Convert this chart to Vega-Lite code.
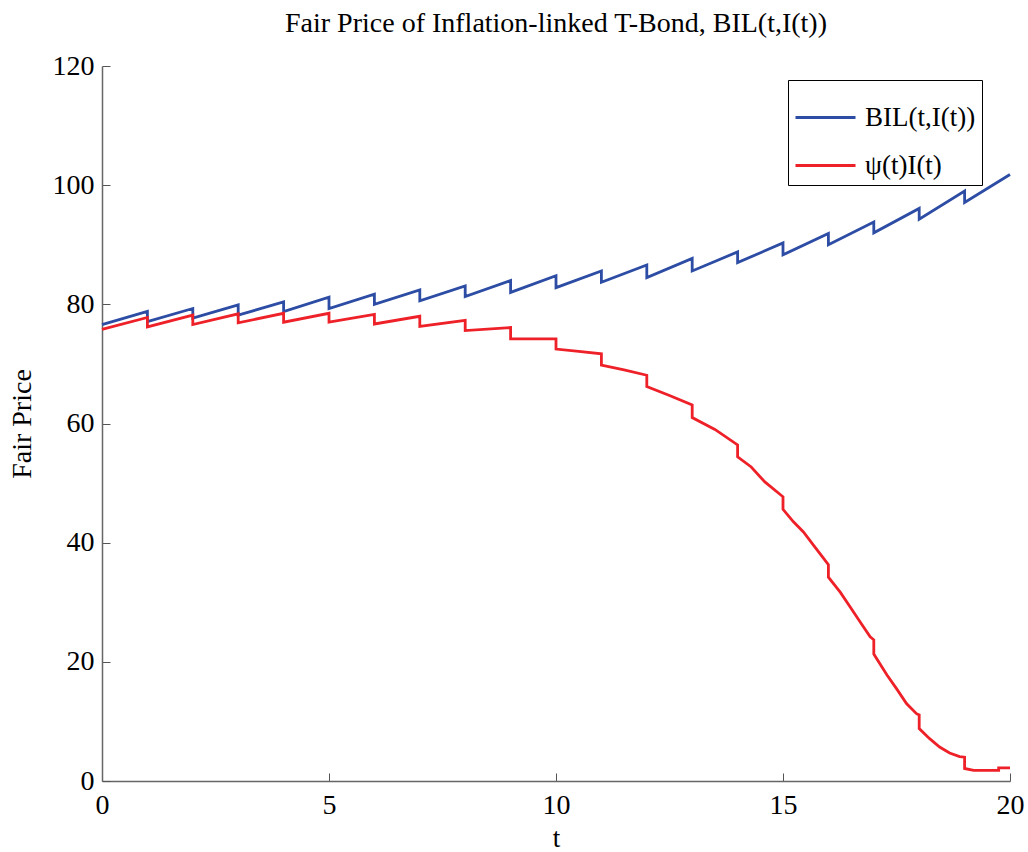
{
  "$schema": "https://vega.github.io/schema/vega-lite/v6.json",
  "width": 908,
  "height": 715,
  "autosize": {"type": "none"},
  "padding": {"left": 102, "top": 66, "right": 18, "bottom": 71},
  "background": "white",
  "config": {"view": {"stroke": null}, "font": "Liberation Serif"},
  "title": {"text": "Fair Price of Inflation-linked T-Bond, BIL(t,I(t))", "font": "Liberation Serif", "fontSize": 28, "fontWeight": "normal", "color": "black", "offset": 14, "anchor": "middle"},
  "data": {"values": [
    {"s": "BIL(t,I(t))", "i": 0, "t": 0, "v": 76.6},
    {"s": "BIL(t,I(t))", "i": 1, "t": 1, "v": 78.8},
    {"s": "BIL(t,I(t))", "i": 2, "t": 1, "v": 77.1},
    {"s": "BIL(t,I(t))", "i": 3, "t": 2, "v": 79.3},
    {"s": "BIL(t,I(t))", "i": 4, "t": 2, "v": 77.7},
    {"s": "BIL(t,I(t))", "i": 5, "t": 3, "v": 79.9},
    {"s": "BIL(t,I(t))", "i": 6, "t": 3, "v": 78.2},
    {"s": "BIL(t,I(t))", "i": 7, "t": 4, "v": 80.4},
    {"s": "BIL(t,I(t))", "i": 8, "t": 4, "v": 78.8},
    {"s": "BIL(t,I(t))", "i": 9, "t": 5, "v": 81.2},
    {"s": "BIL(t,I(t))", "i": 10, "t": 5, "v": 79.3},
    {"s": "BIL(t,I(t))", "i": 11, "t": 6, "v": 81.7},
    {"s": "BIL(t,I(t))", "i": 12, "t": 6, "v": 80.0},
    {"s": "BIL(t,I(t))", "i": 13, "t": 7, "v": 82.4},
    {"s": "BIL(t,I(t))", "i": 14, "t": 7, "v": 80.6},
    {"s": "BIL(t,I(t))", "i": 15, "t": 8, "v": 83.1},
    {"s": "BIL(t,I(t))", "i": 16, "t": 8, "v": 81.3},
    {"s": "BIL(t,I(t))", "i": 17, "t": 9, "v": 84.0},
    {"s": "BIL(t,I(t))", "i": 18, "t": 9, "v": 82.0},
    {"s": "BIL(t,I(t))", "i": 19, "t": 10, "v": 84.8},
    {"s": "BIL(t,I(t))", "i": 20, "t": 10, "v": 82.8},
    {"s": "BIL(t,I(t))", "i": 21, "t": 11, "v": 85.6},
    {"s": "BIL(t,I(t))", "i": 22, "t": 11, "v": 83.7},
    {"s": "BIL(t,I(t))", "i": 23, "t": 12, "v": 86.6},
    {"s": "BIL(t,I(t))", "i": 24, "t": 12, "v": 84.5},
    {"s": "BIL(t,I(t))", "i": 25, "t": 13, "v": 87.7},
    {"s": "BIL(t,I(t))", "i": 26, "t": 13, "v": 85.6},
    {"s": "BIL(t,I(t))", "i": 27, "t": 14, "v": 88.8},
    {"s": "BIL(t,I(t))", "i": 28, "t": 14, "v": 87.0},
    {"s": "BIL(t,I(t))", "i": 29, "t": 15, "v": 90.3},
    {"s": "BIL(t,I(t))", "i": 30, "t": 15, "v": 88.3},
    {"s": "BIL(t,I(t))", "i": 31, "t": 16, "v": 91.9},
    {"s": "BIL(t,I(t))", "i": 32, "t": 16, "v": 90.0},
    {"s": "BIL(t,I(t))", "i": 33, "t": 17, "v": 93.8},
    {"s": "BIL(t,I(t))", "i": 34, "t": 17, "v": 92.0},
    {"s": "BIL(t,I(t))", "i": 35, "t": 18, "v": 96.1},
    {"s": "BIL(t,I(t))", "i": 36, "t": 18, "v": 94.3},
    {"s": "BIL(t,I(t))", "i": 37, "t": 19, "v": 99.0},
    {"s": "BIL(t,I(t))", "i": 38, "t": 19, "v": 97.1},
    {"s": "BIL(t,I(t))", "i": 39, "t": 20, "v": 101.8},
    {"s": "ψ(t)I(t)", "i": 0, "t": 0, "v": 75.8},
    {"s": "ψ(t)I(t)", "i": 1, "t": 1, "v": 77.8},
    {"s": "ψ(t)I(t)", "i": 2, "t": 1, "v": 76.2},
    {"s": "ψ(t)I(t)", "i": 3, "t": 2, "v": 78.2},
    {"s": "ψ(t)I(t)", "i": 4, "t": 2, "v": 76.6},
    {"s": "ψ(t)I(t)", "i": 5, "t": 3, "v": 78.4},
    {"s": "ψ(t)I(t)", "i": 6, "t": 3, "v": 76.9},
    {"s": "ψ(t)I(t)", "i": 7, "t": 4, "v": 78.5},
    {"s": "ψ(t)I(t)", "i": 8, "t": 4, "v": 77.0},
    {"s": "ψ(t)I(t)", "i": 9, "t": 5, "v": 78.5},
    {"s": "ψ(t)I(t)", "i": 10, "t": 5, "v": 77.0},
    {"s": "ψ(t)I(t)", "i": 11, "t": 6, "v": 78.3},
    {"s": "ψ(t)I(t)", "i": 12, "t": 6, "v": 76.7},
    {"s": "ψ(t)I(t)", "i": 13, "t": 7, "v": 78.0},
    {"s": "ψ(t)I(t)", "i": 14, "t": 7, "v": 76.3},
    {"s": "ψ(t)I(t)", "i": 15, "t": 8, "v": 77.3},
    {"s": "ψ(t)I(t)", "i": 16, "t": 8, "v": 75.6},
    {"s": "ψ(t)I(t)", "i": 17, "t": 9, "v": 76.1},
    {"s": "ψ(t)I(t)", "i": 18, "t": 9, "v": 74.2},
    {"s": "ψ(t)I(t)", "i": 19, "t": 10, "v": 74.2},
    {"s": "ψ(t)I(t)", "i": 20, "t": 10, "v": 72.5},
    {"s": "ψ(t)I(t)", "i": 21, "t": 10.5, "v": 72.1},
    {"s": "ψ(t)I(t)", "i": 22, "t": 11, "v": 71.7},
    {"s": "ψ(t)I(t)", "i": 23, "t": 11, "v": 69.8},
    {"s": "ψ(t)I(t)", "i": 24, "t": 11.5, "v": 69.0},
    {"s": "ψ(t)I(t)", "i": 25, "t": 12, "v": 68.1},
    {"s": "ψ(t)I(t)", "i": 26, "t": 12, "v": 66.2},
    {"s": "ψ(t)I(t)", "i": 27, "t": 12.5, "v": 64.7},
    {"s": "ψ(t)I(t)", "i": 28, "t": 13, "v": 63.1},
    {"s": "ψ(t)I(t)", "i": 29, "t": 13, "v": 61.0},
    {"s": "ψ(t)I(t)", "i": 30, "t": 13.5, "v": 59.0},
    {"s": "ψ(t)I(t)", "i": 31, "t": 14, "v": 56.4},
    {"s": "ψ(t)I(t)", "i": 32, "t": 14, "v": 54.4},
    {"s": "ψ(t)I(t)", "i": 33, "t": 14.3, "v": 52.7},
    {"s": "ψ(t)I(t)", "i": 34, "t": 14.6, "v": 50.2},
    {"s": "ψ(t)I(t)", "i": 35, "t": 15, "v": 47.7},
    {"s": "ψ(t)I(t)", "i": 36, "t": 15, "v": 45.6},
    {"s": "ψ(t)I(t)", "i": 37, "t": 15.23, "v": 43.5},
    {"s": "ψ(t)I(t)", "i": 38, "t": 15.45, "v": 41.8},
    {"s": "ψ(t)I(t)", "i": 39, "t": 15.67, "v": 39.6},
    {"s": "ψ(t)I(t)", "i": 40, "t": 15.89, "v": 37.4},
    {"s": "ψ(t)I(t)", "i": 41, "t": 16, "v": 36.3},
    {"s": "ψ(t)I(t)", "i": 42, "t": 16, "v": 34.2},
    {"s": "ψ(t)I(t)", "i": 43, "t": 16.26, "v": 31.7},
    {"s": "ψ(t)I(t)", "i": 44, "t": 16.48, "v": 29.2},
    {"s": "ψ(t)I(t)", "i": 45, "t": 16.7, "v": 26.7},
    {"s": "ψ(t)I(t)", "i": 46, "t": 16.92, "v": 24.2},
    {"s": "ψ(t)I(t)", "i": 47, "t": 17, "v": 23.7},
    {"s": "ψ(t)I(t)", "i": 48, "t": 17, "v": 21.3},
    {"s": "ψ(t)I(t)", "i": 49, "t": 17.29, "v": 17.8},
    {"s": "ψ(t)I(t)", "i": 50, "t": 17.5, "v": 15.5},
    {"s": "ψ(t)I(t)", "i": 51, "t": 17.72, "v": 13.0},
    {"s": "ψ(t)I(t)", "i": 52, "t": 17.94, "v": 11.3},
    {"s": "ψ(t)I(t)", "i": 53, "t": 18, "v": 11.1},
    {"s": "ψ(t)I(t)", "i": 54, "t": 18, "v": 8.8},
    {"s": "ψ(t)I(t)", "i": 55, "t": 18.23, "v": 7.1},
    {"s": "ψ(t)I(t)", "i": 56, "t": 18.45, "v": 5.7},
    {"s": "ψ(t)I(t)", "i": 57, "t": 18.67, "v": 4.7},
    {"s": "ψ(t)I(t)", "i": 58, "t": 18.89, "v": 4.1},
    {"s": "ψ(t)I(t)", "i": 59, "t": 19, "v": 4.0},
    {"s": "ψ(t)I(t)", "i": 60, "t": 19, "v": 2.1},
    {"s": "ψ(t)I(t)", "i": 61, "t": 19.2, "v": 1.8},
    {"s": "ψ(t)I(t)", "i": 62, "t": 19.75, "v": 1.8},
    {"s": "ψ(t)I(t)", "i": 63, "t": 19.75, "v": 2.2},
    {"s": "ψ(t)I(t)", "i": 64, "t": 20, "v": 2.2}
  ]},
  "mark": {"type": "line", "strokeWidth": 2.8, "strokeJoin": "miter"},
  "encoding": {
    "x": {"field": "t", "type": "quantitative",
      "scale": {"domain": [0, 20], "nice": false, "zero": false},
      "axis": {"title": "t", "values": [0, 5, 10, 15, 20], "grid": false, "labelFlush": false, "tickSize": -8, "tickColor": "#555", "domainColor": "#666", "domainWidth": 1.5, "labelFont": "Liberation Serif", "labelFontSize": 28, "labelColor": "black", "labelPadding": 18, "titleFont": "Liberation Serif", "titleFontSize": 27, "titleFontWeight": "normal", "titleColor": "black", "titlePadding": 6}},
    "y": {"field": "v", "type": "quantitative",
      "scale": {"domain": [0, 120], "nice": false},
      "axis": {"title": "Fair Price", "values": [0, 20, 40, 60, 80, 100, 120], "grid": false, "labelFlush": false, "tickSize": -8, "tickColor": "#555", "domainColor": "#666", "domainWidth": 1.5, "labelFont": "Liberation Serif", "labelFontSize": 28, "labelColor": "black", "labelPadding": 16, "titleFont": "Liberation Serif", "titleFontSize": 28, "titleFontWeight": "normal", "titleColor": "black", "titlePadding": 16}},
    "color": {"field": "s", "type": "nominal",
      "scale": {"domain": ["BIL(t,I(t))", "ψ(t)I(t)"], "range": ["#2D4DA5", "#EE2028"]},
      "legend": {"title": null, "orient": "none", "legendX": 686, "legendY": 14, "strokeColor": "black", "fillColor": "white", "padding": 6, "symbolType": "stroke", "symbolSize": 3600, "symbolStrokeWidth": 2.8, "labelFont": "Liberation Serif", "labelFontSize": 27, "labelColor": "black", "rowPadding": 3, "labelOffset": 8}},
    "order": {"field": "i", "type": "quantitative"}
  }
}
